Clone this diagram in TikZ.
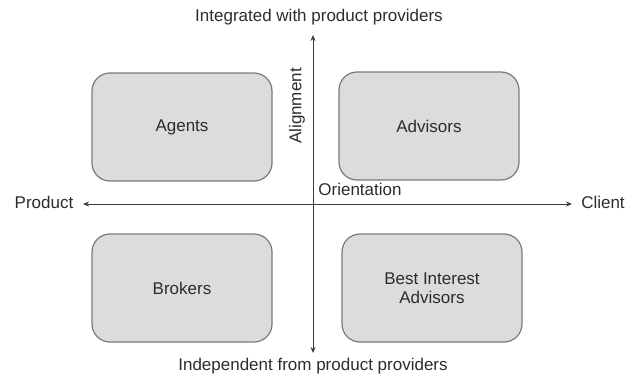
\documentclass[tikz,border=0pt]{standalone}
\usepackage{fontspec}
\setmainfont{Liberation Sans}
\usetikzlibrary{arrows.meta}
\definecolor{boxfill}{HTML}{DCDCDD}
\definecolor{boxline}{HTML}{7A7A7A}
\definecolor{inkgray}{HTML}{2C2C2C}
\definecolor{axisgray}{HTML}{3A3A3A}
\begin{document}
\begin{tikzpicture}[x=1pt,y=-1pt,
  font=\fontsize{17}{19.5}\selectfont, text=inkgray,
  cell/.style={draw=boxline, line width=1.2pt, fill=boxfill, rounded corners=18pt,
    minimum width=180pt, minimum height=108pt, align=center, inner sep=0pt},
  axis/.style={draw=axisgray, line width=1pt, -{Stealth[length=6pt,width=5pt]}},
  lbl/.style={inner sep=0pt, anchor=center}]
  \useasboundingbox (0,0) rectangle (627,380);

  % quadrant boxes
  \node[cell] (agents)   at (182,127) {Agents};
  \node[cell] (advisors) at (429,126) {Advisors};
  \node[cell] (brokers)  at (182,288) {Brokers};
  \node[cell] (bia)      at (432,288) {Best Interest\\Advisors};

  % axis end points
  \coordinate (top)    at (313,35);
  \coordinate (bottom) at (313,353);
  \coordinate (left)   at (83,204);
  \coordinate (right)  at (572,204);
  \coordinate (centre) at (313,204);

  \draw[axis] (centre) -- (top);
  \draw[axis] (centre) -- (bottom);
  \draw[axis] (centre) -- (left);
  \draw[axis] (centre) -- (right);

  % axis labels
  \node[lbl] (intg)   at (319,17)  {Integrated with product providers};
  \node[lbl] (indep)  at (313,366) {Independent from product providers};
  \node[lbl] (prod)   at (44,202)  {Product};
  \node[lbl] (client) at (603,202) {Client};
  \node[lbl] (orient) at (360,189) {Orientation};
  \node[lbl, rotate=90] (align) at (297,106) {Alignment};
\end{tikzpicture}
\end{document}
